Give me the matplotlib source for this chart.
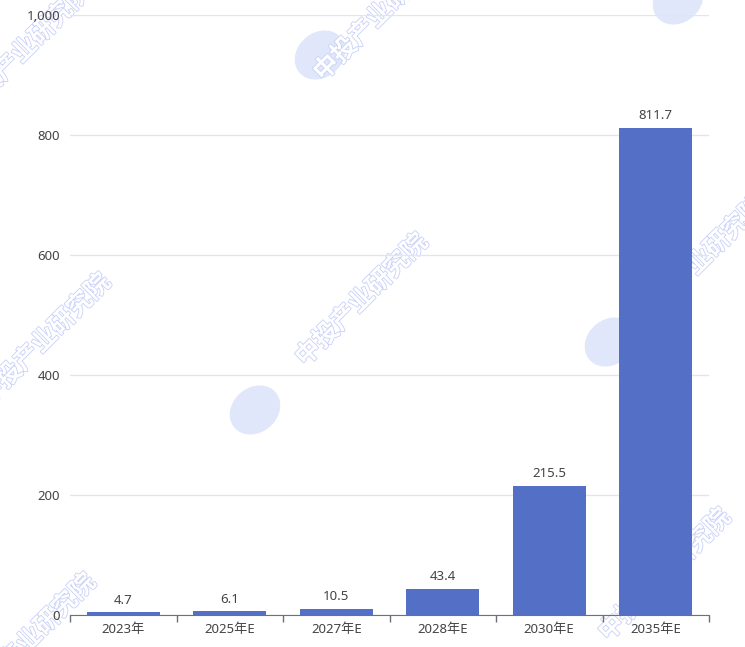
import matplotlib
matplotlib.use('Agg')
import matplotlib.pyplot as plt
import matplotlib.patheffects as pe
from matplotlib.patches import Ellipse

plt.rcParams['font.family'] = ['Noto Sans', 'Noto Sans CJK SC', 'DejaVu Sans']

categories = ['2023年', '2025年E', '2027年E', '2028年E', '2030年E', '2035年E']
values = [4.7, 6.1, 10.5, 43.4, 215.5, 811.7]
y_ticks = [0, 200, 400, 600, 800, 1000]

W, H = 745, 647
fig = plt.figure(figsize=(W / 100, H / 100), dpi=100)

# watermarks, drawn behind the axes
wm_pos = [(45, 340), (362, 300), (380, 15), (700, 262), (665, 575), (25, 50), (30, 640)]
for px, py in wm_pos:
    fig.text(px / W, 1 - py / H, '中投产业研究院', rotation=45, ha='center', va='center',
             fontsize=18, fontweight='bold', color='white', family='Noto Sans CJK SC',
             path_effects=[pe.withStroke(linewidth=1.2, foreground='#c8d1f8')], zorder=0)
for px, py in [(320, 55), (255, 410), (610, 342), (678, 0)]:
    fig.patches.append(Ellipse((px / W, 1 - py / H), 46 / W, 50 / H, angle=-30,
                               transform=fig.transFigure, color='#e0e7fb', zorder=0))

ax = fig.add_axes([70 / W, (H - 615) / H, 639 / W, 600 / H])
ax.set_zorder(2)
ax.patch.set_alpha(0)

x = range(len(categories))
bars = ax.bar(x, values, width=0.69, color='#5470c6', zorder=2)
for b, v in zip(bars, values):
    ax.annotate(f'{v:g}', (b.get_x() + b.get_width() / 2, v), xytext=(0, 4),
                textcoords='offset points', ha='center', va='bottom',
                fontsize=9.5, color='#444444')

ax.set_xlim(-0.5, len(categories) - 0.5)
ax.set_ylim(0, 1000)
ax.set_yticks(y_ticks)
ax.set_yticklabels([f'{t:,}' for t in y_ticks])
ax.yaxis.grid(True, color='#e0e6f1', linewidth=1, zorder=0)
ax.tick_params(axis='y', length=0, pad=7, labelsize=9.5, labelcolor='#444444')

ax.set_xticks(list(x))
ax.set_xticklabels(categories)
ax.set_xticks([i - 0.5 for i in range(len(categories) + 1)], minor=True)
ax.tick_params(axis='x', which='major', length=0, pad=6, labelsize=9.5, labelcolor='#444444')
ax.tick_params(axis='x', which='minor', length=5, color='#6e7079', width=1)

for s in ['top', 'right', 'left']:
    ax.spines[s].set_visible(False)
ax.spines['bottom'].set_color('#6e7079')

fig.savefig('out.png', dpi=100)
